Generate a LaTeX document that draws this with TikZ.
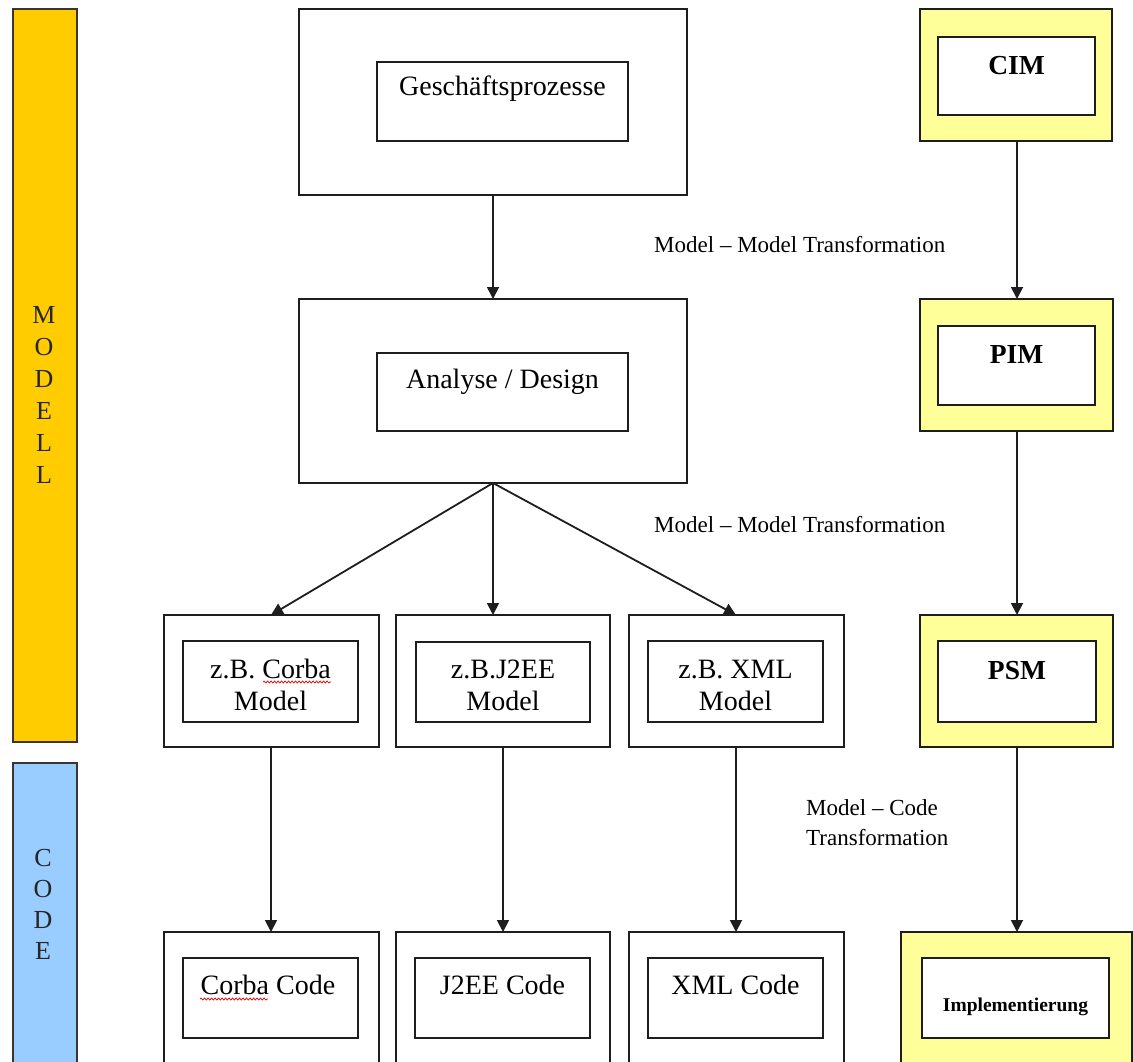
\documentclass[tikz,border=0pt]{standalone}
\usepackage{fontspec}
\setmainfont{Liberation Serif}
\usetikzlibrary{arrows.meta,decorations.pathmorphing}
\definecolor{modellgold}{HTML}{FFCC00}
\definecolor{codeblue}{HTML}{99CCFF}
\definecolor{paleyellow}{HTML}{FFFF99}
\definecolor{edge}{HTML}{1E1E1E}
\definecolor{barline}{HTML}{3A3530}

\tikzset{
  box/.style={draw=edge, line width=2pt, rectangle, inner sep=0pt, outer sep=0pt},
  outerbox/.style={box, fill=white},
  mdabox/.style={box, fill=paleyellow},
  innerbox/.style={box, fill=white},
  body/.style={font=\fontsize{28}{32}\selectfont, inner sep=0pt, anchor=base},
  bodybold/.style={font=\fontsize{27.5}{32}\selectfont\bfseries, inner sep=0pt, anchor=base},
  smallbold/.style={font=\fontsize{19.5}{22}\selectfont\bfseries, inner sep=0pt, anchor=base},
  note/.style={font=\fontsize{23}{30}\selectfont, inner sep=0pt, anchor=base west},
  flow/.style={line width=1.8pt, draw=edge, -{Triangle[length=12pt,width=12pt]}},
  bar/.style={draw=barline, line width=1.6pt, rectangle, inner sep=0pt},
  barletter/.style={font=\fontsize{26}{26}\selectfont, inner sep=0pt, anchor=base, text=black!85},
  spell/.style={draw=red!85!black, line width=0.7pt, decorate,
                decoration={snake, segment length=3.5pt, amplitude=1pt}}
}

\begin{document}
\begin{tikzpicture}[x=1pt, y=-1pt]
\clip (0,0) rectangle (1133,1061);
\fill[white] (0,0) rectangle (1133,1061);

% side bars
\node[bar, fill=modellgold, minimum width=64, minimum height=733] (modell) at (45,375.5) {};
\node[bar, fill=codeblue, minimum width=64, minimum height=340] (code) at (45,933) {};
\foreach \L [count=\i] in {M,O,D,E,L,L}
  \node[barletter] (modell\i) at (44,{291+32*\i}) {\L};
\foreach \L [count=\i] in {C,O,D,E}
  \node[barletter] (code\i) at (43,{835+31*\i}) {\L};

% left flow: outer boxes
\node[outerbox, minimum width=388, minimum height=186] (gp) at (493,102) {};
\node[outerbox, minimum width=388, minimum height=184] (ad) at (493,391) {};
\node[outerbox, minimum width=215, minimum height=132] (cm) at (271,681) {};
\node[outerbox, minimum width=214, minimum height=132] (jm) at (503,681) {};
\node[outerbox, minimum width=215, minimum height=132] (xm) at (736,681) {};
\node[outerbox, minimum width=215, minimum height=168] (cc) at (271,1016) {};
\node[outerbox, minimum width=214, minimum height=168] (jc) at (503,1016) {};
\node[outerbox, minimum width=215, minimum height=168] (xc) at (736,1016) {};

% left flow: inner boxes
\node[innerbox, minimum width=251, minimum height=79] (gpI) at (502.5,101.5) {};
\node[innerbox, minimum width=251, minimum height=78] (adI) at (502.5,392) {};
\node[innerbox, minimum width=175, minimum height=81] (cmI) at (270.5,681.5) {};
\node[innerbox, minimum width=174, minimum height=80] (jmI) at (503,682) {};
\node[innerbox, minimum width=175, minimum height=81] (xmI) at (735.5,681.5) {};
\node[innerbox, minimum width=175, minimum height=80] (ccI) at (270.5,998) {};
\node[innerbox, minimum width=175, minimum height=80] (jcI) at (502.5,998) {};
\node[innerbox, minimum width=175, minimum height=80] (xcI) at (735.5,998) {};

% right column (MDA levels)
\node[mdabox, minimum width=192, minimum height=132] (cim) at (1016,75) {};
\node[mdabox, minimum width=193, minimum height=132] (pim) at (1016.5,365) {};
\node[mdabox, minimum width=193, minimum height=132] (psm) at (1016.5,681) {};
\node[mdabox, minimum width=231, minimum height=168] (impl) at (1016.5,1016) {};
\node[innerbox, minimum width=157, minimum height=78] (cimI) at (1016.5,76) {};
\node[innerbox, minimum width=157, minimum height=79] (pimI) at (1016.5,365.5) {};
\node[innerbox, minimum width=158, minimum height=81] (psmI) at (1017,681.5) {};
\node[innerbox, minimum width=187, minimum height=80] (implI) at (1015.5,998) {};

% box texts
\node[body] (gpT) at (502.5,95) {Geschäftsprozesse};
\node[body] (adT) at (502.5,388) {Analyse / Design};
\node[body] (cmT1) at (270.5,678) {z.B. Corba};
\node[body] (cmT2) at (270.5,710) {Model};
\node[body] (jmT1) at (503,678) {z.B.J2EE};
\node[body] (jmT2) at (503,710) {Model};
\node[body] (xmT1) at (735.5,678) {z.B. XML};
\node[body] (xmT2) at (735.5,710) {Model};
\node[body] (ccT) at (268,994) {Corba Code};
\node[body] (jcT) at (502.5,994) {J2EE Code};
\node[body] (xcT) at (735.5,994) {XML Code};
\node[bodybold] (cimT) at (1016.5,74) {CIM};
\node[bodybold] (pimT) at (1016.5,363) {PIM};
\node[bodybold] (psmT) at (1017,679) {PSM};
\node[smallbold] (implT) at (1015.5,1011) {Implementierung};

% spell-check marks under "Corba"
\draw[spell] (263,682) -- (331,682);
\draw[spell] (200,999) -- (268,999);

% transformation notes
\node[note] (mm1) at (654,252) {Model – Model Transformation};
\node[note] (mm2) at (654,532) {Model – Model Transformation};
\node[note] (mc1) at (806,815) {Model – Code};
\node[note] (mc2) at (806,845) {Transformation};

% connectors
\coordinate (rx) at (1017,0);
\draw[flow] (gp.south) -- (ad.north);
\draw[flow] (ad.south) -- (cm.north);
\draw[flow] (ad.south) -- (ad.south |- jm.north);
\draw[flow] (ad.south) -- (xm.north);
\draw[flow] (cm.south) -- (cc.north);
\draw[flow] (jm.south) -- (jc.north);
\draw[flow] (xm.south) -- (xc.north);
\draw[flow] (rx |- cim.south) -- (rx |- pim.north);
\draw[flow] (rx |- pim.south) -- (rx |- psm.north);
\draw[flow] (rx |- psm.south) -- (rx |- impl.north);
\end{tikzpicture}
\end{document}
